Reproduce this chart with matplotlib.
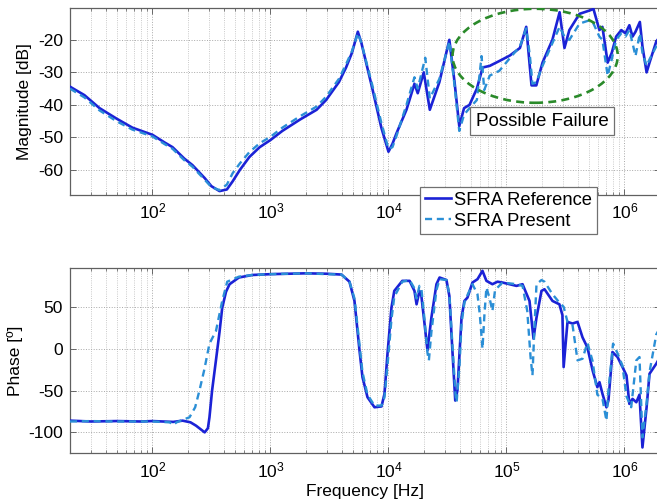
import numpy as np
import matplotlib
matplotlib.use("Agg")
import matplotlib.pyplot as plt
from matplotlib.patches import Ellipse
from matplotlib.ticker import LogLocator, NullFormatter

plt.rcParams["font.family"] = ["Liberation Sans", "DejaVu Sans"]
plt.rcParams["axes.unicode_minus"] = False

# ---- Magnitude response (dB) ----
mag_freq_ref = [20, 26.5, 35.6, 49.5, 67.6, 100, 126, 148, 186, 218, 277, 316, 370, 427, 478, 550,
                663, 810, 1000, 1260, 1780, 2460, 2960, 3800, 4370, 4900, 5500, 5900, 7300, 8700,
                10000, 10800, 11700, 14200, 16600, 17700, 19900, 22400, 27000, 32800, 36300, 39800,
                43700, 48600, 56100, 62800, 72100, 87100, 107000, 130000, 147000, 163000, 179000,
                202000, 245000, 282000, 310000, 341000, 416000, 504000, 546000, 613000, 650000,
                720000, 780000, 850000, 940000, 1020000, 1100000, 1170000, 1240000, 1350000,
                1420000, 1540000, 1630000, 1860000, 2000000]
mag_ref = [-34.4, -37, -41, -44.2, -47, -49.2, -51.5, -53, -56.5, -58.5, -62.5, -65, -66.5, -66,
           -63.5, -60, -56, -53, -50.8, -48, -44.5, -41.5, -38.5, -33, -28.5, -24, -17.5, -21,
           -35, -47, -54.4, -52, -48.7, -41.5, -33.5, -36.4, -30, -41.5, -33, -20, -33, -46.5,
           -41, -40, -35, -28.5, -28, -26.5, -24.8, -22.5, -16, -34, -34, -27, -20, -11.5, -22.5,
           -17, -12, -11, -10.5, -17, -16, -27, -24, -19, -17, -18, -15.5, -19, -17.5, -14.5,
           -22, -30, -27, -20.5, -19]

mag_freq_pre = [20, 26.5, 35.6, 49.5, 67.6, 100, 126, 148, 186, 218, 277, 316, 370, 427, 478, 550,
                663, 810, 1000, 1260, 1780, 2460, 2960, 3800, 4370, 4900, 5500, 5900, 7300, 8700,
                10000, 10800, 11700, 14200, 16600, 17700, 20500, 22400, 27000, 32800, 36300, 39800,
                43700, 48600, 56100, 61500, 64800, 72100, 87100, 107000, 130000, 147000, 158000,
                166000, 179000, 202000, 245000, 282000, 310000, 341000, 416000, 504000, 546000,
                613000, 650000, 720000, 780000, 850000, 940000, 1020000, 1100000, 1170000, 1240000,
                1350000, 1420000, 1540000, 1630000, 1860000, 2000000]
mag_pre = [-35, -37.7, -41.7, -45, -47.6, -49.7, -52, -53.5, -57, -59, -63, -65.3, -66.2, -64.5,
           -61, -58, -54.5, -51.8, -49.8, -47, -43.5, -40.5, -37.5, -32, -27.5, -23.5, -18, -21,
           -34, -45.5, -53.5, -53, -49.5, -40, -31.5, -35, -25.5, -38, -32, -20.5, -34, -48,
           -43, -41, -38.5, -25, -35.4, -31, -29.5, -25.6, -22, -16.5, -25, -33.5, -33, -28,
           -21, -16, -19, -20, -15, -14, -15, -19, -20, -31, -26, -20, -18, -19, -17, -21, -25,
           -18, -24, -28, -26, -22, -20]

# ---- Phase response (degrees) ----
ph_freq_ref = [20, 30, 50, 80, 100, 150, 180, 210, 234, 260, 277, 295, 304, 320, 345, 370, 390,
               420, 450, 540, 700, 1000, 2000, 3000, 4000, 4670, 5150, 5680, 6020, 6640, 7610,
               8730, 9250, 9810, 10600, 11200, 13100, 15100, 16600, 17300, 18300, 19000, 20200,
               21400, 23100, 25500, 27100, 31000, 32800, 34800, 36800, 38400, 41600, 44000, 46700,
               51500, 56800, 62600, 67600, 76000, 83900, 92500, 121600, 136800, 156700, 169400,
               179600, 198000, 210000, 245500, 281000, 298000, 305000, 329000, 363000, 400000,
               441000, 485000, 537000, 589000, 614000, 651000, 703000, 731000, 791000, 873000,
               962000, 1040000, 1100000, 1170000, 1260000, 1340000, 1420000, 1540000, 1630000,
               1860000, 2000000]
ph_ref = [-86, -87, -86.5, -87, -86.5, -87.5, -86, -88, -92, -97, -100, -95, -82, -50, -14, 20, 49,
          68, 77, 85, 88, 89, 90, 89.5, 88.5, 80, 57, -2, -34, -58, -70, -69, -54, -6, 49, 69,
          81, 81, 69, 53, 69, 63, 30, -2, 37, 77, 85, 82, 63, -2, -62, -50, 37, 57, 61, 79, 83,
          93, 81, 77, 80, 79, 75, 77, 57, 12, 37, 69, 71, 57, 53, 40, -22, 32, 30, 32, 13.5, 1.5,
          -26, -46, -40, -54, -70, -62, -4, -10, -22, -32, -66, -60, -64, -55, -118, -70, -30,
          -18, -10]

ph_freq_pre = [20, 30, 50, 80, 100, 140, 150, 160, 180, 206, 230, 250, 275, 304, 345, 390, 430,
               540, 700, 1000, 2000, 3000, 4000, 4670, 5150, 5680, 6020, 6640, 7610, 8730, 9250,
               9810, 10600, 11200, 13100, 15100, 16600, 17300, 18300, 19000, 20200, 21400, 22000,
               23100, 25500, 27100, 31000, 32800, 34800, 37000, 37800, 40000, 41600, 44000, 46700,
               51500, 56800, 59500, 62600, 65000, 67600, 72000, 76000, 80000, 92500, 121600,
               136800, 150000, 160000, 166000, 172000, 179600, 198000, 210000, 245500, 281000,
               305000, 329000, 363000, 400000, 441000, 485000, 537000, 589000, 651000, 703000,
               731000, 800000, 870000, 960000, 1040000, 1140000, 1260000, 1340000, 1420000,
               1540000, 1630000, 1860000, 2000000]
ph_pre = [-87, -86.5, -87, -87, -87, -88, -91, -88, -85, -82, -70, -50, -25, 6, 21, 57, 80, 86, 88,
          89, 90, 89, 88.5, 80, 60, 5, -28, -55, -68, -68, -58, -20, 35, 62, 80, 82, 72, 60, 75,
          72, 35, -5, -14, 20, 70, 83, 82, 65, 5, -55, -64, -20, 30, 55, 64, 77, 65, 40, 0, 40,
          73, 60, 45, 70, 79, 77, 75, 45, -10, -32, 20, 77, 82, 80, 65, 55, 50, 32, 28, -14, -12,
          7, -15, -55, -60, -86, -50, 6, -5, -20, -57, -70, -14, -10, -106, -65, -28, 17, 25]

mag_yticks = [-60, -50, -40, -30, -20]
ph_yticks = [-100, -50, 0, 50]
freq_range = (20, 2e6)

ref_color = "#1b22d6"
pre_color = "#2b8fd6"
fs = 12.5

fig = plt.figure(figsize=(6.57, 5.0), dpi=100)
W, H = 657.0, 500.0
ax1 = fig.add_axes([70 / W, 1 - 195 / H, 590 / W, (195 - 8.3) / H])
ax2 = fig.add_axes([70 / W, 1 - 453.3 / H, 590 / W, (453.3 - 268.3) / H])

l1, = ax1.semilogx(mag_freq_ref, mag_ref, color=ref_color, lw=1.9, label="SFRA Reference", zorder=3)
l2, = ax1.semilogx(mag_freq_pre, mag_pre, color=pre_color, lw=1.7, ls=(0, (3, 2)),
                   label="SFRA Present", zorder=3)
ax2.semilogx(ph_freq_ref, ph_ref, color=ref_color, lw=1.9, zorder=3)
ax2.semilogx(ph_freq_pre, ph_pre, color=pre_color, lw=1.7, ls=(0, (3, 2)), zorder=3)

ax1.set_ylim(-67.7, -10.3)
ax2.set_ylim(-125, 96)
ax1.set_yticks(mag_yticks)
ax2.set_yticks(ph_yticks)

for ax in (ax1, ax2):
    ax.set_xlim(*freq_range)
    ax.xaxis.set_major_locator(LogLocator(base=10, numticks=20))
    ax.xaxis.set_minor_locator(LogLocator(base=10, subs=np.arange(2, 10), numticks=20))
    ax.xaxis.set_minor_formatter(NullFormatter())
    ax.grid(True, which="major", ls=":", color="#a8a8a8", lw=0.7)
    ax.grid(True, which="minor", axis="x", ls=":", color="#b8b8b8", lw=0.6)
    ax.tick_params(which="both", direction="in", top=True, right=True, color="#555555",
                   labelsize=fs, pad=5)
    ax.tick_params(which="major", length=4, width=0.6)
    ax.tick_params(which="minor", length=2, width=0.5)
    for sp in ax.spines.values():
        sp.set_color("#606060")
        sp.set_linewidth(0.9)
    ax.set_axisbelow(True)

ax1.set_ylabel("Magnitude [dB]", fontsize=fs, labelpad=4)
ax2.set_ylabel("Phase [º]", fontsize=fs, labelpad=4)
ax2.set_xlabel("Frequency [Hz]", fontsize=fs, labelpad=3)


def axes_frac(ax, f, v):
    x0, x1 = ax.get_xlim()
    y0, y1 = ax.get_ylim()
    fx = (np.log10(f) - np.log10(x0)) / (np.log10(x1) - np.log10(x0))
    fy = (v - y0) / (y1 - y0)
    return fx, fy


# Region of interest around the high-frequency deviations
decades = np.log10(freq_range[1]) - np.log10(freq_range[0])
cx, cy = axes_frac(ax1, 1.75e5, -24.9)
ell = Ellipse((cx, cy), 1.40 / decades, 28.9 / (ax1.get_ylim()[1] - ax1.get_ylim()[0]),
              transform=ax1.transAxes, fill=False, ec="#2a8a2a", lw=1.9, ls=(0, (3, 2)),
              zorder=4)
ax1.add_patch(ell)

ax1.text(2.0e5, -45, "Possible Failure", ha="center", va="center", fontsize=13.5, zorder=6,
         bbox=dict(boxstyle="square,pad=0.3", fc="white", ec="#707070", lw=0.9))

leg = ax1.legend(handles=[l1, l2], loc="upper left", bbox_to_anchor=(420 / W, 1 - 187 / H),
                 bbox_transform=fig.transFigure, fontsize=13.2, handlelength=1.45,
                 handletextpad=0.15, borderpad=0.25, labelspacing=0.22, borderaxespad=0,
                 fancybox=False, framealpha=1, edgecolor="#707070")
leg.get_frame().set_linewidth(0.9)
leg.set_zorder(10)

fig.savefig("out.png", dpi=100)
